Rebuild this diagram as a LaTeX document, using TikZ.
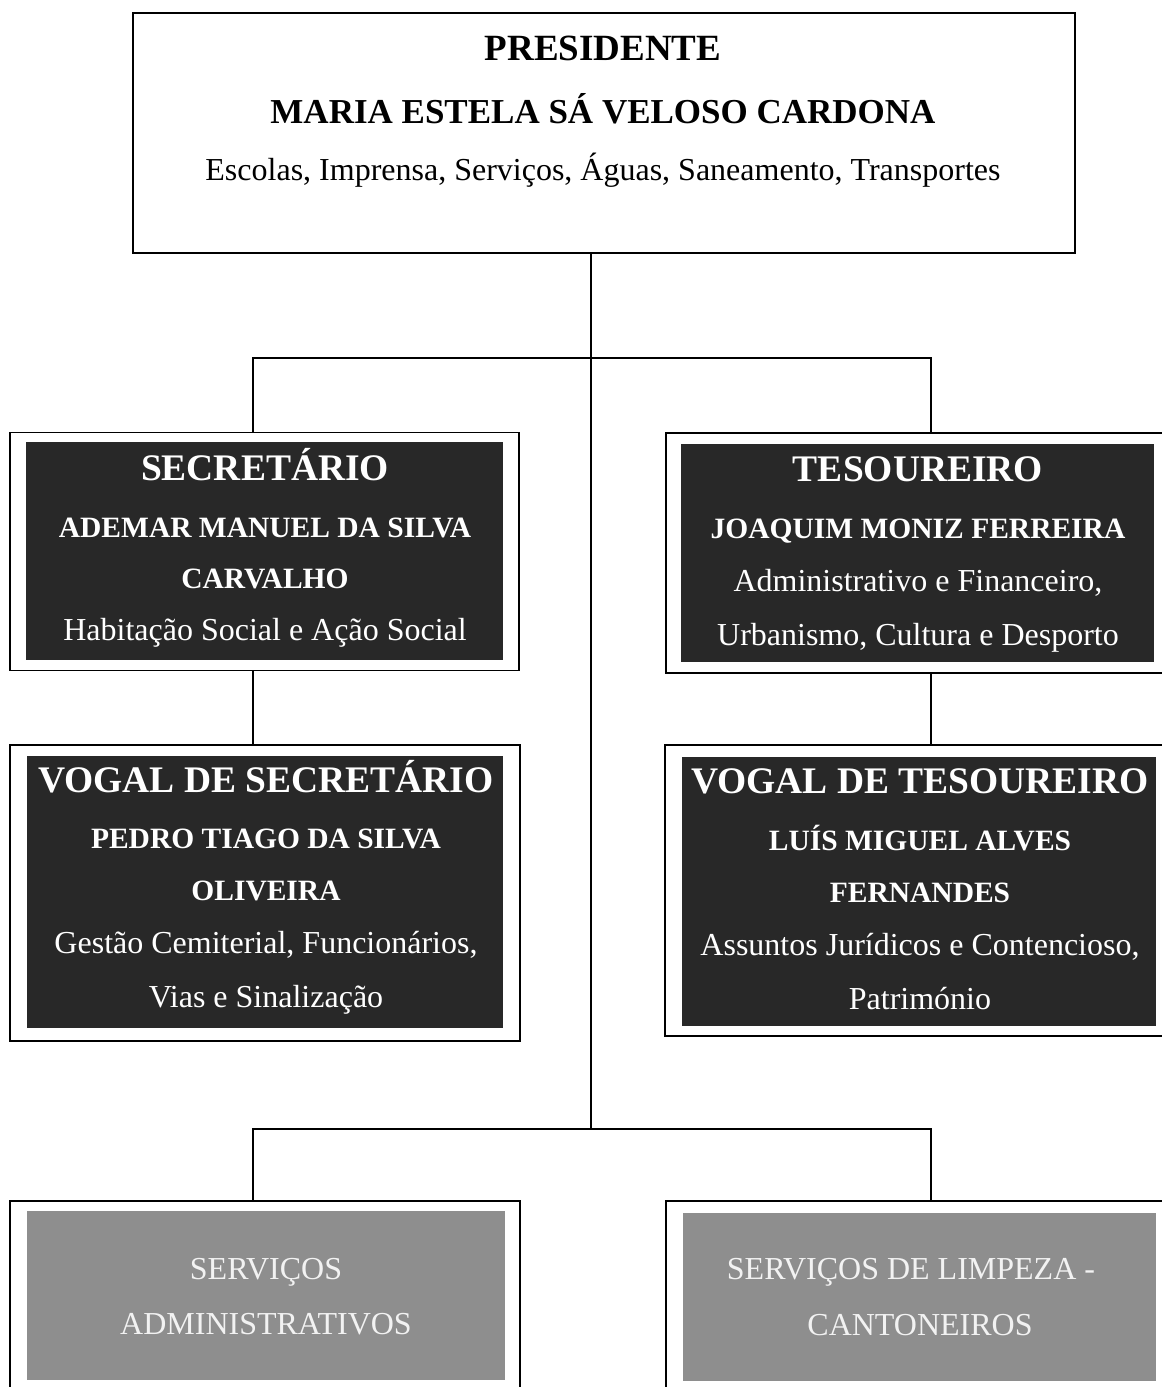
\documentclass[tikz,border=0pt]{standalone}
\usepackage{fontspec}
\setmainfont{Liberation Serif}
\definecolor{darkbg}{HTML}{282828}
\definecolor{greybg}{HTML}{8E8E8E}
\definecolor{paletxt}{HTML}{F2F2F2}
\begin{document}
\begin{tikzpicture}[x=1pt,y=-1pt,
  outerbox/.style={draw=black,line width=1.6pt,fill=white,inner sep=0pt,rectangle},
  innerdark/.style={fill=darkbg,draw=none,inner sep=0pt,rectangle},
  innergrey/.style={fill=greybg,draw=none,inner sep=0pt,rectangle},
  conn/.style={draw=black,line width=1.6pt},
  ptitle/.style={anchor=base,inner sep=0pt,font=\fontsize{37}{40}\selectfont\bfseries},
  pname/.style={anchor=base,inner sep=0pt,font=\fontsize{35}{38}\selectfont\bfseries},
  pdesc/.style={anchor=base,inner sep=0pt,font=\fontsize{32}{35}\selectfont},
  dtitle/.style={anchor=base,inner sep=0pt,text=white,font=\fontsize{37.5}{40}\selectfont\bfseries},
  dname/.style={anchor=base,inner sep=0pt,text=white,font=\fontsize{29.5}{32}\selectfont\bfseries},
  ddesc/.style={anchor=base,inner sep=0pt,text=white,font=\fontsize{32}{35}\selectfont},
  gtext/.style={anchor=base,inner sep=0pt,text=paletxt,font=\fontsize{32}{35}\selectfont}
]
\useasboundingbox (0,0) rectangle (1162,1387);
\clip (0,0) rectangle (1162,1387);
\fill[white] (0,0) rectangle (1162,1387);

% ---------- outer boxes ----------
\node[outerbox,minimum width=942pt,minimum height=240pt] (pres) at (604,133) {};
\node[outerbox,minimum width=509pt,minimum height=238pt] (sec) at (264.5,551.5) {};
\node[outerbox,minimum width=510pt,minimum height=240pt] (tes) at (921,553) {};
\node[outerbox,minimum width=510pt,minimum height=296pt] (vsec) at (265,893) {};
\node[outerbox,minimum width=510pt,minimum height=291pt] (vtes) at (920,890.5) {};
\node[outerbox,minimum width=510pt,minimum height=200pt] (adm) at (265,1301) {};
\node[outerbox,minimum width=510pt,minimum height=200pt] (limp) at (921,1301) {};

% ---------- inner fills ----------
\node[innerdark,minimum width=477pt,minimum height=218pt] (secIn) at (264.5,551) {};
\node[innerdark,minimum width=473pt,minimum height=218pt] (tesIn) at (917.5,553) {};
\node[innerdark,minimum width=476pt,minimum height=272pt] (vsecIn) at (265,892) {};
\node[innerdark,minimum width=474pt,minimum height=269pt] (vtesIn) at (919,891.5) {};
\node[innergrey,minimum width=478pt,minimum height=169pt] (admIn) at (266,1295.5) {};
\node[innergrey,minimum width=473pt,minimum height=168pt] (limpIn) at (919.5,1297) {};

% ---------- connectors ----------
\coordinate (trunkTop) at (591,358);
\coordinate (trunkBot) at (591,1129);
\coordinate (jL1) at (253,358);
\coordinate (jR1) at (931,358);
\coordinate (jL2) at (253,1129);
\coordinate (jR2) at (931,1129);
\draw[conn] (trunkTop |- pres.south) -- (trunkBot);
\draw[conn] (jL1 |- sec.north) -- (jL1) -- (jR1) -- (jR1 |- tes.north);
\draw[conn] (jL1 |- sec.south) -- (jL1 |- vsec.north);
\draw[conn] (jR1 |- tes.south) -- (jR1 |- vtes.north);
\draw[conn] (jL2 |- adm.north) -- (jL2) -- (jR2) -- (jR2 |- limp.north);

% ---------- texts ----------
\node[ptitle] (presT) at (603,60) {PRESIDENTE};
\node[pname]  (presN) at (603,123) {MARIA ESTELA SÁ VELOSO CARDONA};
\node[pdesc]  (presD) at (603,180) {Escolas, Imprensa, Serviços, Águas, Saneamento, Transportes};

\node[dtitle] (secT)  at (265,480) {SECRETÁRIO};
\node[dname]  (secN1) at (265,537) {ADEMAR MANUEL DA SILVA};
\node[dname]  (secN2) at (265,588) {CARVALHO};
\node[ddesc]  (secD)  at (265,640) {Habitação Social e Ação Social};

\node[dtitle] (tesT)  at (918,481) {TESOUREIRO};
\node[dname]  (tesN)  at (918,538) {JOAQUIM MONIZ FERREIRA};
\node[ddesc]  (tesD1) at (918,591) {Administrativo e Financeiro,};
\node[ddesc]  (tesD2) at (918,645) {Urbanismo, Cultura e Desporto};

\node[dtitle] (vsecT)  at (266,792) {VOGAL DE SECRETÁRIO};
\node[dname]  (vsecN1) at (266,848) {PEDRO TIAGO DA SILVA};
\node[dname]  (vsecN2) at (266,900) {OLIVEIRA};
\node[ddesc]  (vsecD1) at (266,953) {Gestão Cemiterial, Funcionários,};
\node[ddesc]  (vsecD2) at (266,1007) {Vias e Sinalização};

\node[dtitle] (vtesT)  at (920,793) {VOGAL DE TESOUREIRO};
\node[dname]  (vtesN1) at (920,850) {LUÍS MIGUEL ALVES};
\node[dname]  (vtesN2) at (920,902) {FERNANDES};
\node[ddesc]  (vtesD1) at (920,955) {Assuntos Jurídicos e Contencioso,};
\node[ddesc]  (vtesD2) at (920,1009) {Património};

\node[gtext] (admT1)  at (266,1279) {SERVIÇOS};
\node[gtext] (admT2)  at (266,1334) {ADMINISTRATIVOS};
\node[gtext] (limpT1) at (911,1279) {SERVIÇOS DE LIMPEZA -};
\node[gtext] (limpT2) at (920,1335) {CANTONEIROS};
\end{tikzpicture}
\end{document}
